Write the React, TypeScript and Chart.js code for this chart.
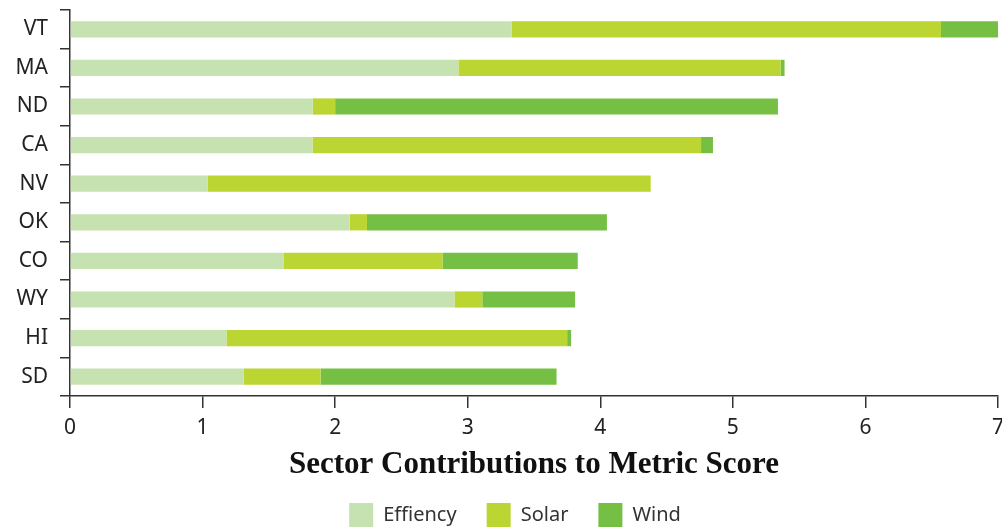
import React, { useEffect, useRef } from "react";
import { Chart, registerables } from "chart.js";

Chart.register(...registerables);

const states = ["VT", "MA", "ND", "CA", "NV", "OK", "CO", "WY", "HI", "SD"];
const efficiency = [3.33, 2.93, 1.83, 1.83, 1.04, 2.11, 1.61, 2.90, 1.18, 1.31];
const solar = [3.24, 2.43, 0.17, 2.93, 3.34, 0.13, 1.20, 0.21, 2.57, 0.58];
const wind = [0.45, 0.03, 3.34, 0.09, 0.0, 1.81, 1.02, 0.70, 0.03, 1.78];
const xTicks = [0, 1, 2, 3, 4, 5, 6, 7];

const SANS = "'Noto Sans', sans-serif";
const SERIF = "'Liberation Serif', serif";

const legendShift = {
  id: "legendShift",
  afterLayout(chart: any) {
    if (chart.legend) {
      chart.legend.left += 16;
      chart.legend.right += 16;
    }
  },
};

export default function App() {
  const ref = useRef<HTMLCanvasElement | null>(null);

  useEffect(() => {
    if (!ref.current) return;
    const chart = new Chart(ref.current, {
      type: "bar",
      data: {
        labels: states,
        datasets: [
          { label: "Effiency", data: efficiency, backgroundColor: "#c6e2b1" },
          { label: "Solar", data: solar, backgroundColor: "#bbd532" },
          { label: "Wind", data: wind, backgroundColor: "#75bf44" },
        ],
      },
      plugins: [legendShift],
      options: {
        indexAxis: "y",
        animation: false,
        responsive: false,
        maintainAspectRatio: false,
        layout: { padding: { top: 10, right: 4, left: 0, bottom: -10 } },
        datasets: {
          bar: { categoryPercentage: 1, barPercentage: 0.42 },
        },
        scales: {
          x: {
            stacked: true,
            min: 0,
            max: 7,
            afterBuildTicks: (s: any) => {
              s.ticks = xTicks.map((v) => ({ value: v }));
            },
            afterFit: (s: any) => {
              s.height = 77;
              s.paddingRight = 0;
              s.paddingLeft = 0;
            },
            border: { display: true, color: "#333", width: 1.5 },
            grid: {
              drawOnChartArea: false,
              drawTicks: true,
              tickLength: 12,
              color: "#333",
              lineWidth: 1.5,
            },
            ticks: {
              color: "#222",
              font: { family: SANS, size: 21 },
              padding: 7,
            },
            title: {
              display: true,
              text: "Sector Contributions to Metric Score",
              color: "#111",
              font: { family: SERIF, size: 31, weight: "bold" },
              padding: { top: 4, bottom: -11 },
            },
          },
          y: {
            stacked: true,
            afterFit: (s: any) => {
              s.width = 70;
              s.paddingTop = 0;
              s.paddingBottom = 0;
            },
            border: { display: true, color: "#333", width: 1.5 },
            grid: {
              offset: true,
              drawOnChartArea: false,
              drawTicks: true,
              tickLength: 10,
              color: "#333",
              lineWidth: 1.5,
            },
            ticks: {
              color: "#222",
              font: { family: SANS, size: 21 },
              padding: 12,
            },
          },
        },
        plugins: {
          legend: {
            position: "bottom",
            labels: {
              boxWidth: 24,
              boxHeight: 24,
              padding: 30,
              color: "#333",
              font: { family: SANS, size: 20 },
            },
          },
          tooltip: { enabled: false },
        },
      },
    });
    return () => chart.destroy();
  }, []);

  return (
    <div style={{ position: "fixed", left: 0, top: 0, width: 1002, height: 527, background: "#fff" }}>
      <canvas ref={ref} width={1002} height={527} style={{ display: "block" }} />
    </div>
  );
}
